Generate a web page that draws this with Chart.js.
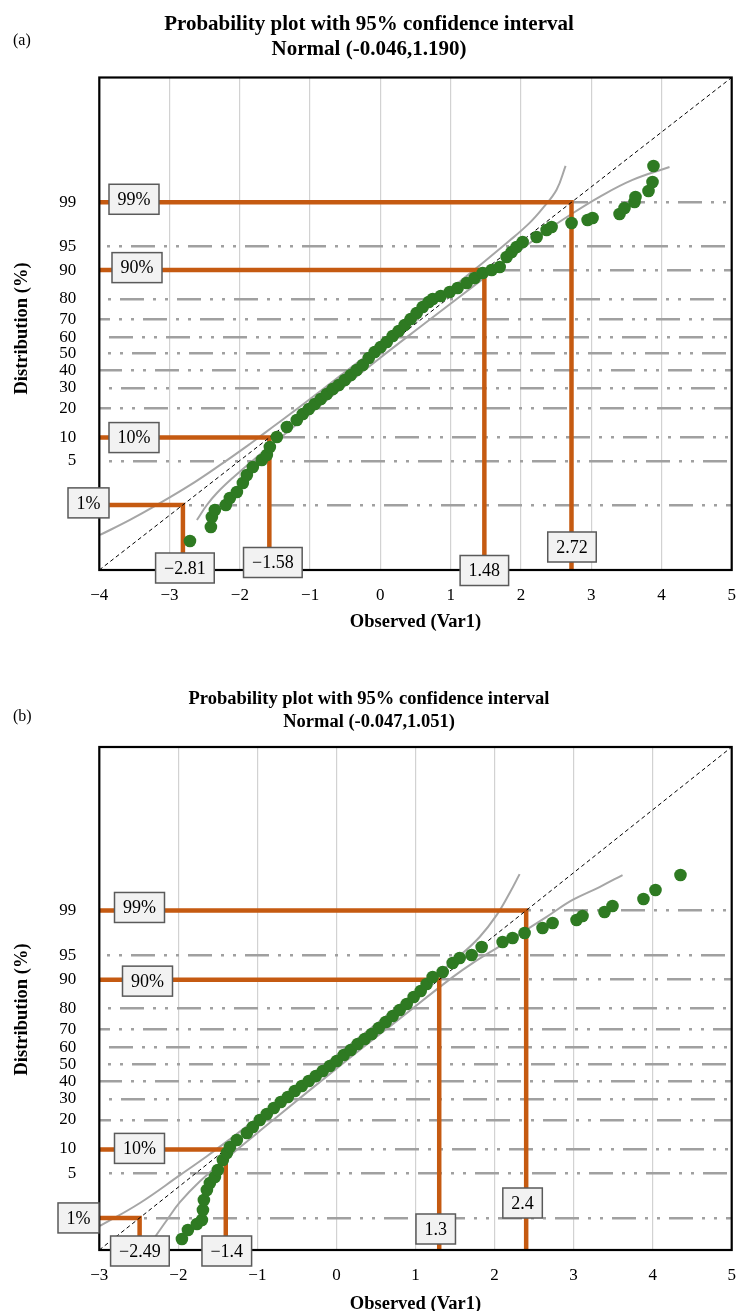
<!DOCTYPE html>
<html><head><meta charset="utf-8">
<script src="https://cdn.jsdelivr.net/npm/chart.js@4.4.1/dist/chart.umd.min.js"></script>
<style>
html,body{margin:0;padding:0;background:#fff;}
#wrap{position:relative;width:738px;height:1311px;overflow:hidden;background:#fff;}
canvas{position:absolute;left:0;}
#ca{top:0;} #cb{top:650px;}
</style></head><body>
<div id="wrap"><canvas id="ca" width="738" height="650"></canvas><canvas id="cb" width="738" height="661"></canvas></div>
<script>
// ---------- Chart (a) data ----------
const aTitle = ['Probability plot with 95% confidence interval', 'Normal (-0.046,1.190)'];
const aXTicks = [-4, -3, -2, -1, 0, 1, 2, 3, 4, 5];
const aXTickLabels = ['−4', '−3', '−2', '−1', '0', '1', '2', '3', '4', '5'];
const aYRange = [-4, 5];
const aYTickValues = [2.722, 1.911, 1.479, 0.956, 0.578, 0.255, -0.046, -0.347, -0.670, -1.048, -1.571, -2.003, -2.814];
const aYTickLabels = ['99', '95', '90', '80', '70', '60', '50', '40', '30', '20', '10', '5', ''];
const aObsX = [-2.710, -2.412, -2.398, -2.355, -2.199, -2.142, -2.042, -1.957, -1.900, -1.815, -1.687, -1.616, -1.573, -1.473, -1.331, -1.189,
  -1.104, -1.018, -0.933, -0.848, -0.762, -0.677, -0.592, -0.506, -0.421, -0.336, -0.250, -0.165, -0.080, 0.005, 0.091, 0.176, 0.261, 0.347, 0.432, 0.517, 0.603, 0.688, 0.745,
  0.859, 0.987, 1.100, 1.228, 1.342, 1.456, 1.584, 1.698, 1.797, 1.868, 1.939, 2.025, 2.224, 2.366, 2.437, 2.721, 2.949, 3.020, 3.404, 3.475, 3.617, 3.631, 3.816, 3.873, 3.887];
const aObsY = [-3.470, -3.214, -3.031, -2.904, -2.812, -2.684, -2.575, -2.410, -2.264, -2.118, -1.990, -1.898, -1.752, -1.569, -1.387, -1.259,
  -1.149, -1.058, -0.966, -0.875, -0.784, -0.692, -0.619, -0.528, -0.436, -0.345, -0.254, -0.126, -0.016, 0.075, 0.167, 0.276, 0.368, 0.477, 0.587, 0.697, 0.806, 0.898, 0.952,
  1.007, 1.080, 1.154, 1.245, 1.336, 1.428, 1.483, 1.537, 1.720, 1.812, 1.903, 1.994, 2.086, 2.214, 2.268, 2.341, 2.396, 2.433, 2.506, 2.616, 2.725, 2.816, 2.926, 3.091, 3.383];
const aBandUpX = [-3.990, -3.564, -3.180, -2.710, -2.284, -1.857, -1.644, -1.431, -1.146, -0.577, -0.009, 0.560, 0.987, 1.371, 1.840, 2.124, 2.309, 2.508, 2.636];
const aBandUpY = [-3.360, -3.084, -2.810, -2.450, -2.084, -1.697, -1.494, -1.291, -1.016, -0.457, 0.106, 0.680, 1.122, 1.521, 2.020, 2.344, 2.609, 2.948, 3.386];
const aBandLoX = [-2.611, -2.469, -2.326, -2.099, -1.786, -1.431, -1.146, -0.577, -0.009, 0.560, 1.129, 1.698, 2.309, 2.693, 3.120, 3.589, 4.115];
const aBandLoY = [-3.086, -2.812, -2.593, -2.314, -1.966, -1.591, -1.291, -0.707, -0.129, 0.435, 0.994, 1.553, 2.149, 2.483, 2.820, 3.129, 3.365];
const aRefLevels = [2.72, 1.48, -1.58, -2.81];
const aRefPct = ['99%', '90%', '10%', '1%'];
const aRefVal = ['2.72', '1.48', '−1.58', '−2.81'];

// ---------- Chart (b) data ----------
const bTitle = ['Probability plot with 95% confidence interval', 'Normal (-0.047,1.051)'];
const bXTicks = [-3, -2, -1, 0, 1, 2, 3, 4, 5];
const bXTickLabels = ['−3', '−2', '−1', '0', '1', '2', '3', '4', '5'];
const bYRange = [-3, 5];
const bYTickValues = [2.398, 1.682, 1.300, 0.838, 0.504, 0.219, -0.047, -0.313, -0.598, -0.932, -1.394, -1.776, -2.492];
const bYTickLabels = ['99', '95', '90', '80', '70', '60', '50', '40', '30', '20', '10', '5', ''];
const bObsX = [-1.955, -1.879, -1.765, -1.702, -1.689, -1.677, -1.639, -1.601, -1.538, -1.500, -1.437, -1.386, -1.348, -1.260, -1.133, -1.058, -0.969,
  -0.881, -0.792, -0.704, -0.615, -0.527, -0.438, -0.350, -0.261, -0.173, -0.084, 0.004, 0.093, 0.181, 0.269, 0.358, 0.446, 0.535, 0.623, 0.712, 0.800, 0.889, 0.977, 1.066, 1.141, 1.217,
  1.344, 1.470, 1.559, 1.710, 1.837, 2.102, 2.228, 2.380, 2.607, 2.734, 3.037, 3.113, 3.391, 3.492, 3.884, 4.036, 4.352];
const bObsY = [-2.825, -2.682, -2.587, -2.523, -2.364, -2.205, -2.046, -1.934, -1.839, -1.728, -1.569, -1.457, -1.362, -1.250, -1.139, -1.044, -0.932,
  -0.837, -0.741, -0.646, -0.567, -0.471, -0.392, -0.312, -0.233, -0.153, -0.073, 0.006, 0.101, 0.181, 0.276, 0.356, 0.435, 0.531, 0.626, 0.722, 0.817, 0.913, 1.024, 1.119, 1.231, 1.342,
  1.422, 1.565, 1.644, 1.692, 1.819, 1.899, 1.962, 2.042, 2.121, 2.201, 2.249, 2.312, 2.376, 2.471, 2.583, 2.726, 2.964];
const bBandUpX = [-2.991, -2.486, -1.980, -1.639, -1.348, -1.058, -0.464, 0.547, 1.306, 1.559, 1.811, 2.026, 2.191, 2.317];
const bBandUpY = [-2.618, -2.252, -1.810, -1.509, -1.238, -0.958, -0.364, 0.637, 1.416, 1.679, 1.978, 2.326, 2.678, 2.978];
const bBandLoX = [-2.296, -2.144, -1.980, -1.727, -1.386, -1.058, -0.754, 0.042, 0.800, 1.470, 1.723, 2.064, 2.405, 2.658, 2.987, 3.328, 3.619];
const bBandLoY = [-2.793, -2.523, -2.240, -1.907, -1.536, -1.198, -0.884, -0.073, 0.680, 1.340, 1.563, 1.829, 2.095, 2.298, 2.567, 2.773, 2.964];
const bRefLevels = [2.4, 1.3, -1.4, -2.49];
const bRefPct = ['99%', '90%', '10%', '1%'];
const bRefVal = ['2.4', '1.3', '−1.4', '−2.49'];

const xTitle = 'Observed (Var1)';
const yTitle = 'Distribution (%)';

// ---------- styling ----------
const SERIF = "'Liberation Serif','Times New Roman',Times,serif";
const GREEN = '#2e7a22';
const ORANGE = '#c55a11';
const BAND = '#a6a6a6';

function pairs(xs, ys) { return xs.map((x, i) => ({ x: x, y: ys[i] })); }

function drawBox(c, t, cx, cy) {
  c.font = '18px ' + SERIF;
  const w = c.measureText(t).width + 17, h = 30;
  c.fillStyle = '#f2f2f2';
  c.fillRect(cx - w / 2, cy - h / 2, w, h);
  c.strokeStyle = '#5a5a5a'; c.lineWidth = 1.5;
  c.strokeRect(cx - w / 2, cy - h / 2, w, h);
  c.fillStyle = '#000'; c.textAlign = 'center'; c.textBaseline = 'middle';
  c.fillText(t, cx, cy + 1);
}

function decoPlugin(s) {
  return {
    id: 'deco' + s.id,
    afterDatasetsDraw(chart) {
      const c = chart.ctx, xs = chart.scales.x, ys = chart.scales.y, a = chart.chartArea;
      c.save();
      c.strokeStyle = '#000'; c.lineWidth = 2.2;
      c.strokeRect(a.left, a.top, a.right - a.left, a.bottom - a.top);
      s.refLevels.forEach((v, i) => {
        drawBox(c, s.refPct[i], s.leftCx[i], ys.getPixelForValue(v) + s.leftDy[i]);
        drawBox(c, s.refVal[i], xs.getPixelForValue(v) + s.botDx[i], s.botCy[i]);
      });
      c.fillStyle = '#000'; c.textAlign = 'center'; c.textBaseline = 'alphabetic';
      c.font = 'bold ' + s.titleSize + 'px ' + SERIF;
      s.title.forEach((t, i) => c.fillText(t, 369, s.titleBase[i]));
      c.font = '16px ' + SERIF; c.textAlign = 'left';
      c.fillText(s.tag, 13, s.tagBase);
      c.font = 'bold 18.5px ' + SERIF; c.textAlign = 'center';
      c.fillText(xTitle, (a.left + a.right) / 2, s.xTitleBase);
      c.translate(s.yTitleX, s.yTitleY); c.rotate(-Math.PI / 2);
      c.textBaseline = 'middle';
      c.fillText(yTitle, 0, 0);
      c.restore();
    }
  };
}

function makeChart(id, s) {
  const xMin = s.xTicks[0], xMax = s.xTicks[s.xTicks.length - 1];
  const yMin = s.yRange[0], yMax = s.yRange[1];
  const lineDs = (data, color, width, extra) => Object.assign({ data: data, showLine: true, borderColor: color, borderWidth: width, pointRadius: 0, fill: false }, extra || {});
  const datasets = [
    { data: pairs(s.obsX, s.obsY), showLine: false, pointRadius: 6.3, pointBackgroundColor: GREEN, pointBorderWidth: 0, pointBorderColor: GREEN },
    lineDs([{ x: xMin, y: yMin }, { x: xMax, y: yMax }], '#000', 1, { borderDash: [4, 3] }),
  ];
  s.refLevels.forEach(v => datasets.push(lineDs([{ x: xMin, y: v }, { x: v, y: v }, { x: v, y: yMin }], ORANGE, 4.5, { borderJoinStyle: 'miter' })));
  datasets.push(lineDs(pairs(s.bandUpX, s.bandUpY), BAND, 2, { tension: 0.4 }));
  datasets.push(lineDs(pairs(s.bandLoX, s.bandLoY), BAND, 2, { tension: 0.4 }));

  new Chart(document.getElementById(id), {
    type: 'scatter',
    data: { datasets: datasets },
    options: {
      responsive: false, animation: false, events: [],
      layout: { padding: { top: s.padTop, right: 5.7, bottom: 0, left: 0 } },
      plugins: { legend: { display: false }, tooltip: { enabled: false }, title: { display: false } },
      scales: {
        x: {
          type: 'linear', min: xMin, max: xMax,
          afterBuildTicks: sc => { sc.ticks = s.xTicks.map(v => ({ value: v })); },
          afterFit: sc => { sc.height = s.xAxisH; sc.paddingLeft = 0; sc.paddingRight = 0; },
          ticks: { autoSkip: false, maxRotation: 0, padding: 15, color: '#000', font: { family: SERIF, size: 17 },
            callback: v => s.xTickLabels[s.xTicks.indexOf(v)] },
          grid: { color: '#d2d2d2', lineWidth: 1.2, drawTicks: false },
          border: { display: false }
        },
        y: {
          type: 'linear', min: yMin, max: yMax,
          afterBuildTicks: sc => { sc.ticks = s.yTickValues.slice().sort((p, q) => p - q).map(v => ({ value: v })); },
          afterFit: sc => { sc.width = 99.3; sc.paddingTop = 0; sc.paddingBottom = 0; },
          ticks: { autoSkip: false, padding: 23, color: '#000', font: { family: SERIF, size: 17 },
            callback: v => s.yTickLabels[s.yTickValues.indexOf(v)] },
          grid: { color: '#a0a0a0', lineWidth: 2.4, drawTicks: false },
          border: { display: false, dash: [24, 9, 3, 9, 3, 9], dashOffset: ctx => (ctx.index * 23) % 57 }
        }
      }
    },
    plugins: [decoPlugin(s)]
  });
}

makeChart('ca', {
  id: 'a', xTicks: aXTicks, xTickLabels: aXTickLabels, yRange: aYRange, yTickValues: aYTickValues, yTickLabels: aYTickLabels,
  obsX: aObsX, obsY: aObsY, bandUpX: aBandUpX, bandUpY: aBandUpY, bandLoX: aBandLoX, bandLoY: aBandLoY,
  refLevels: aRefLevels, refPct: aRefPct, refVal: aRefVal, title: aTitle,
  padTop: 77.5, xAxisH: 80,
  leftCx: [134, 137, 134, 88.5], leftDy: [-3, -2.5, 0, -2],
  botDx: [0.5, 0, 3.5, 2], botCy: [547, 570.5, 562.5, 568],
  titleSize: 21, titleBase: [29.5, 55], tag: '(a)', tagBase: 45,
  xTitleBase: 627, yTitleX: 22, yTitleY: 328.5
});

makeChart('cb', {
  id: 'b', xTicks: bXTicks, xTickLabels: bXTickLabels, yRange: bYRange, yTickValues: bYTickValues, yTickLabels: bYTickLabels,
  obsX: bObsX, obsY: bObsY, bandUpX: bBandUpX, bandUpY: bBandUpY, bandLoX: bBandLoX, bandLoY: bBandLoY,
  refLevels: bRefLevels, refPct: bRefPct, refVal: bRefVal, title: bTitle,
  padTop: 97, xAxisH: 61,
  leftCx: [139.5, 147.5, 139.5, 78.5], leftDy: [-3, 1.5, -1, 0],
  botDx: [-3.6, -3.5, 1, 0.3], botCy: [553, 579, 601, 601],
  titleSize: 18.5, titleBase: [54, 77], tag: '(b)', tagBase: 71,
  xTitleBase: 658.5, yTitleX: 22, yTitleY: 359.5
});
</script>
</body></html>
